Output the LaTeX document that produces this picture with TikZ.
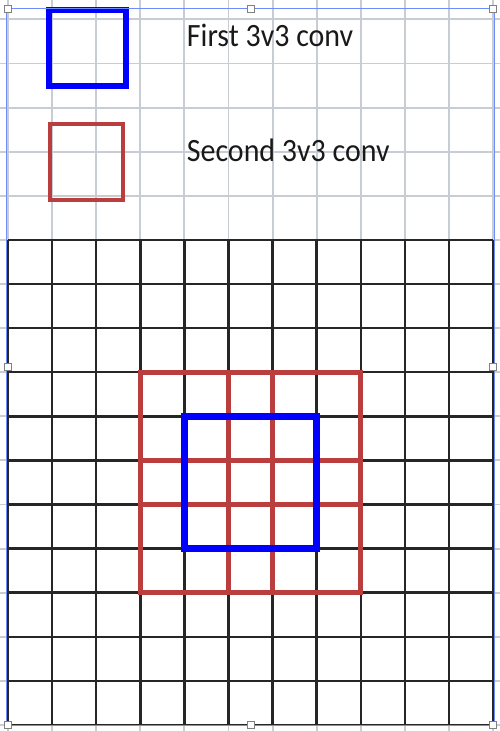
\documentclass[tikz,border=0pt]{standalone}
\usepackage{fontspec}
\setmainfont{Carlito}
\usepackage{tikz}

\definecolor{convred}{RGB}{186,62,62}
\definecolor{sheetgrid}{RGB}{200,205,212}
\definecolor{selblue}{RGB}{110,140,250}

\newcommand{\legendlabel}[1]{\scalebox{0.92}[1]{#1}}

\tikzset{
  handle/.style={draw=gray, fill=white, line width=0.5pt, minimum size=0.16cm, inner sep=0pt},
  legendtext/.style={anchor=base west, inner sep=0pt, text=black!90, font=\fontsize{21pt}{25pt}\selectfont}
}

\begin{document}
\begin{tikzpicture}
\useasboundingbox (-0.181,-0.136) rectangle (11.156,16.44);

% sheet background
\draw[sheetgrid, line width=1.2pt] (-0.181,-0.136) grid (11.156,16.44);

% input map
\draw[black!85, line width=1.6pt] (0,0) grid (11,11);

% second conv (red)
\draw[convred, line width=3pt] (3,3) rectangle (8,8);
\draw[convred, line width=3pt] (5,3) -- (5,8) (6,3) -- (6,8) (3,5) -- (8,5) (3,6) -- (8,6);

% first conv (blue)
\draw[blue, line width=4.5pt] (4,4) rectangle (7,7);

% legend
\draw[blue, line width=4.2pt] (0.93,14.49) rectangle (2.68,16.21);
\draw[convred, line width=2.8pt] (0.95,11.90) rectangle (2.61,13.63);
\node[legendtext] (first) at (4.05,15.38) {\legendlabel{First 3v3 conv}};
\node[legendtext] (second) at (4.05,12.77) {\legendlabel{Second 3v3 conv}};

% selection frame
\draw[selblue, line width=0.6pt] (-0.03,0) rectangle (11.04,16.24);
\foreach \x/\y/\n in {0/16.24/tl, 5.5/16.24/tm, 11/16.24/tr, 0/8.12/ml, 11/8.12/mr, 0/0/bl, 5.5/0/bm, 11/0/br}
  \node[handle] (h\n) at (\x,\y) {};
\end{tikzpicture}
\end{document}
